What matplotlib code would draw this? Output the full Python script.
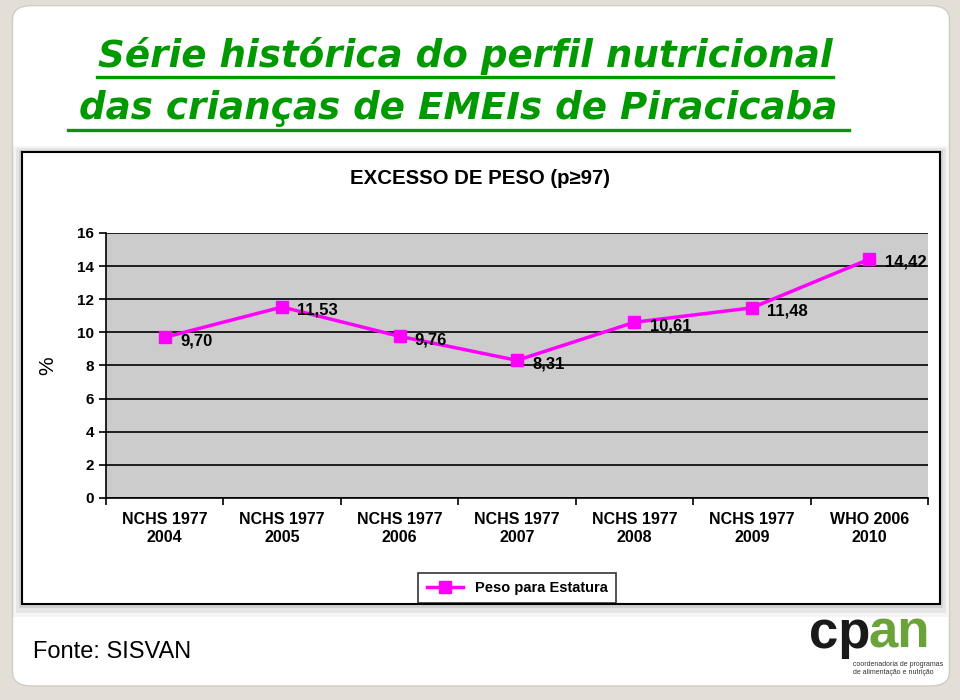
import numpy as np
import matplotlib.pyplot as plt
import matplotlib.patches as patches

plt.rcParams['font.family'] = ['Liberation Sans', 'DejaVu Sans']

categories = ['NCHS 1977\n2004', 'NCHS 1977\n2005', 'NCHS 1977\n2006', 'NCHS 1977\n2007',
              'NCHS 1977\n2008', 'NCHS 1977\n2009', 'WHO 2006\n2010']
values = [9.70, 11.53, 9.76, 8.31, 10.61, 11.48, 14.42]
labels = ['9,70', '11,53', '9,76', '8,31', '10,61', '11,48', '14,42']
yticks = [0, 2, 4, 6, 8, 10, 12, 14, 16]

fig = plt.figure(figsize=(9.6, 7), dpi=100)
fig.patch.set_facecolor('#e4dfd6')

# slide background
slide = patches.FancyBboxPatch((0.013, 0.02), 0.976, 0.972, boxstyle='round,pad=0,rounding_size=0.02',
                               transform=fig.transFigure, facecolor='white', edgecolor='#d0ccc4',
                               linewidth=1, zorder=0)
fig.patches.append(slide)

# chart panel shadow + panel
for k, a in enumerate([0.04, 0.06, 0.09]):
    d = 3 - k
    sh = patches.Rectangle((0.023 - 0.003 * d, 0.137 - 0.006 * d), 0.956 + 0.006 * d, 0.646 + 0.009 * d,
                           transform=fig.transFigure, facecolor='black', alpha=a, edgecolor='none', zorder=1)
    fig.patches.append(sh)
panel = patches.Rectangle((0.023, 0.137), 0.956, 0.646, transform=fig.transFigure,
                          facecolor='white', edgecolor='black', linewidth=1.5, zorder=2)
fig.patches.append(panel)

# title (wide bold italic, underlined)
green = '#009a00'
fig.text(0.4844, 0.904, 'Série histórica do perfil nutricional', color=green, fontsize=26.8,
         fontweight='bold', fontstyle='italic', ha='center', va='baseline', family='DejaVu Sans')
fig.text(0.4770, 0.830, 'das crianças de EMEIs de Piracicaba', color=green, fontsize=26.8,
         fontweight='bold', fontstyle='italic', ha='center', va='baseline', family='DejaVu Sans')
fig.add_artist(plt.Line2D([0.101, 0.868], [0.890, 0.890], color=green, lw=2.4, transform=fig.transFigure))
fig.add_artist(plt.Line2D([0.071, 0.884], [0.814, 0.814], color=green, lw=2.4, transform=fig.transFigure))

ax = fig.add_axes([0.1104, 0.2886, 0.8563, 0.3786])
ax.set_zorder(3)
ax.set_facecolor('#cccccc')
x = np.arange(len(values)) + 0.5
ax.plot(x, values, color='#ff00ff', lw=2.5, marker='s', markersize=8, label='Peso para Estatura')
for xi, v, lab in zip(x, values, labels):
    ax.text(xi + 0.13, v - 0.2, lab, fontsize=12, fontweight='bold', ha='left', va='center')

ax.set_xlim(0, len(values))
ax.set_ylim(0, 16)
ax.set_yticks(yticks)
ax.set_yticklabels([str(t) for t in yticks], fontsize=11, fontweight='bold')
ax.yaxis.grid(True, color='black', lw=1.2)
ax.set_axisbelow(True)
ax.set_xticks(np.arange(len(values) + 1))
ax.set_xticklabels([])
ax.set_xticks(x, minor=True)
ax.set_xticklabels(categories, minor=True, fontsize=11.5, fontweight='bold', linespacing=1.3)
ax.tick_params(axis='x', which='minor', length=0, pad=10)
ax.tick_params(axis='x', which='major', length=5, width=1.2)
ax.tick_params(axis='y', length=5, width=1.2)
for s in ['top', 'right']:
    ax.spines[s].set_visible(False)
for s in ['left', 'bottom']:
    ax.spines[s].set_linewidth(1.2)
ax.set_ylabel('%', fontsize=15, labelpad=14)

fig.text(0.5, 0.745, 'EXCESSO DE PESO (p≥97)', fontsize=14.7, fontweight='bold', ha='center', va='center')

leg = ax.legend(loc='center', bbox_to_anchor=(0.5, -0.34), frameon=True, fancybox=False,
                prop={'weight': 'bold', 'size': 10.5}, handlelength=2.5,
                borderpad=0.55, edgecolor='black')
leg.get_frame().set_linewidth(1.2)

fig.text(0.034, 0.068, 'Fonte: SISVAN', fontsize=17, ha='left', va='center')

# logo text
fig.text(0.843, 0.0743, 'cp', fontsize=38, fontweight='bold', color='#1a1a1a', ha='left', va='baseline')
fig.text(0.905, 0.0743, 'an', fontsize=38, fontweight='bold', color='#6aa33a', ha='left', va='baseline')
fig.text(0.889, 0.0557, 'coordenadoria de programas\nde alimentação e nutrição', fontsize=5,
         color='#333333', ha='left', va='top', linespacing=1.1)

fig.savefig('out.png', dpi=100, facecolor=fig.get_facecolor())
